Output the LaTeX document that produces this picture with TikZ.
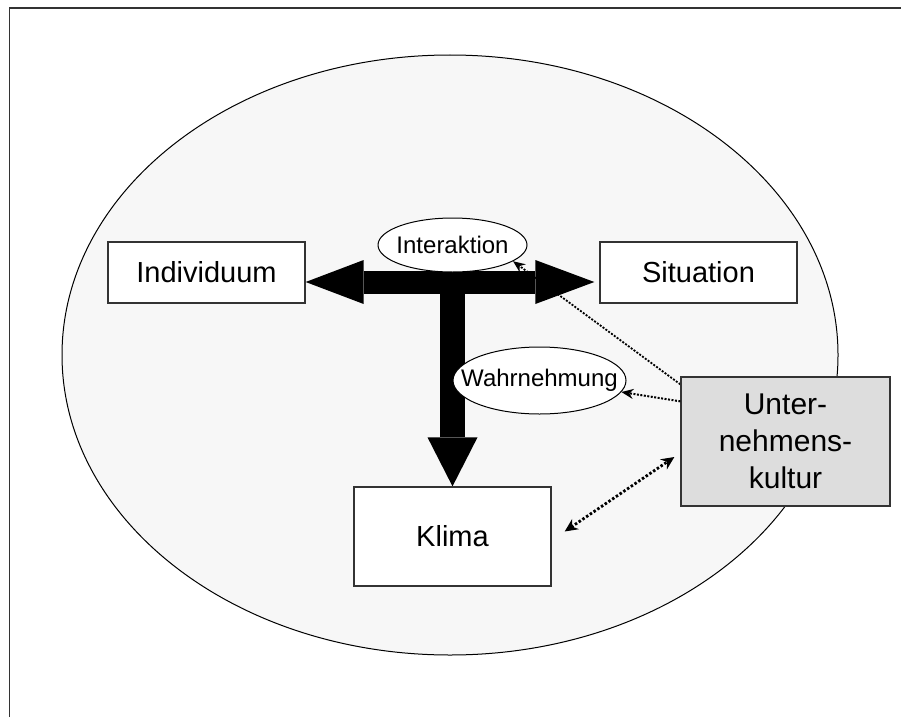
\documentclass[tikz,border=0pt]{standalone}
\usepackage{fontspec}
\setmainfont{Liberation Sans}
\definecolor{FieldGray}{HTML}{F7F7F7}
\definecolor{CultureGray}{HTML}{DDDDDD}
\definecolor{EdgeGray}{HTML}{333333}
\usetikzlibrary{shapes.geometric, arrows.meta, backgrounds}
\tikzset{
  % Box styles
  conceptbox/.style={rectangle, draw=EdgeGray, line width=1.3pt, fill=white, inner sep=0pt, minimum width=197pt, minimum height=61pt, font=\fontsize{29}{34}\selectfont, align=center},
  culturebox/.style={conceptbox, fill=CultureGray, minimum width=209pt, minimum height=129pt, font=\fontsize{30}{37}\selectfont},
  % Ellipse styles
  aspectnode/.style={ellipse, draw=black, line width=1pt, fill=white, inner sep=0pt, font=\fontsize{24}{28}\selectfont},
  % Arrow styles
  bigarrow/.style={black, line width=23pt},
  dotarrow/.style={-{Stealth[length=12pt, width=10pt]}, line width=2pt, dash pattern=on 2pt off 1.5pt, black},
  framestyle/.style={draw=EdgeGray, line width=1.5pt}
}

\begin{document}
\begin{tikzpicture}[x=1pt, y=-1pt]
  \useasboundingbox (0,0) rectangle (901,717);
  % Frame
  \draw[framestyle] (9.5,717) -- (9.5,8) -- (901,8);

  % Concepts
  \node[conceptbox] (indiv) at (206.5,272.5) {Individuum};
  \node[conceptbox] (sit) at (698.5,272.5) {Situation};
  \node[conceptbox, minimum height=99pt] (klima) at (452.5,536.5) {Klima};
  \node[culturebox] (kultur) at (785.5,441.5) {Unter-\\nehmens-\\kultur};

  % Aspects
  \node[aspectnode, minimum width=149pt, minimum height=54pt] (inter) at (452.5,245) {\makebox[0pt]{Interaktion}};
  \node[aspectnode, minimum width=173pt, minimum height=67pt] (wahr) at (539.5,380.5) {\makebox[0pt]{Wahrnehmung}};

  \coordinate (tipL) at ([yshift=-9.5pt]indiv.east);
  \coordinate (tipR) at ([xshift=-5pt, yshift=-9.5pt]sit.west);
  \coordinate (tee) at (452.5,282);
  \coordinate (k1) at ([xshift=13pt, yshift=5pt]klima.east);
  \coordinate (k2) at ([xshift=-6pt, yshift=-15.5pt]kultur.west);

  \begin{scope}[on background layer]
    % Field
    \draw[fill=FieldGray, line width=1pt] (450,355) ellipse [x radius=388pt, y radius=300pt];
    \draw[dotarrow, line width=1.8pt] ([yshift=-8pt]kultur.north west) -- (inter.-15);
    % Axis
    \draw[bigarrow, {Triangle[length=58pt, width=44pt, line width=0pt]}-{Triangle[length=59pt, width=44pt, line width=0pt]}] (tipL) -- (tipR);
    \draw[bigarrow, line width=25pt, -{Triangle[length=49pt, width=50pt, line width=0pt]}] (tee) -- (klima.north);
  \end{scope}

  % Culture links
  \draw[dotarrow] ([yshift=-25pt]kultur.north west) -- (wahr.-8);
  \draw[dotarrow, line width=2.8pt, dash pattern=on 2.5pt off 2pt, {Stealth[length=13pt, width=12pt]}-{Stealth[length=13pt, width=12pt]}] (k1) -- (k2);
\end{tikzpicture}
\end{document}
